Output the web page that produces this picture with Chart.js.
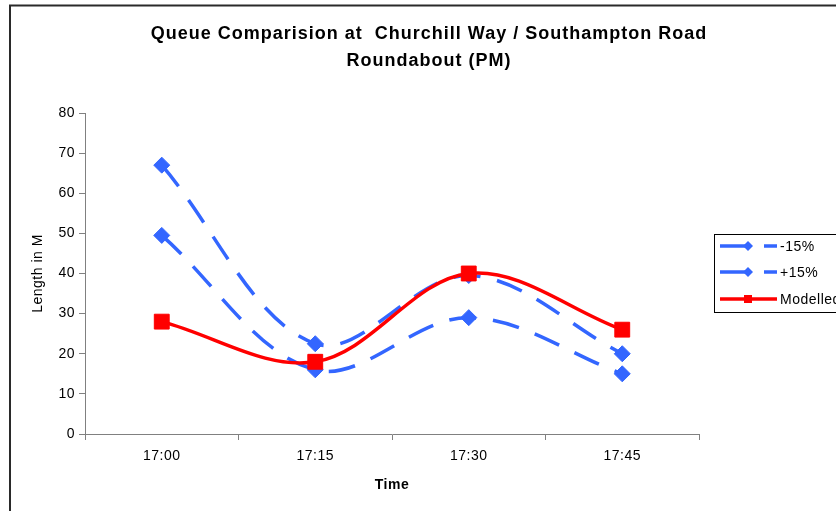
<!DOCTYPE html>
<html>
<head>
<meta charset="utf-8">
<script src="https://cdn.jsdelivr.net/npm/chart.js@4/dist/chart.umd.min.js"></script>
<style>
  html, body { margin: 0; padding: 0; background: #fff; overflow: hidden; }
  #wrap { width: 836px; height: 511px; }
</style>
</head>
<body>
<div id="wrap"><canvas id="queue" width="836" height="511"></canvas></div>
<script>
// Time slots along the x axis
const timeSlots = ['17:00', '17:15', '17:30', '17:45'];
// Queue lengths (m) for each scenario
const minus15 = [49.5, 16, 29, 15];
const plus15 = [67, 22.5, 39.5, 20];
const modelled = [28, 18, 40, 26];

const chartTitle = ['Queue Comparision at  Churchill Way / Southampton Road', 'Roundabout (PM)'];
const yTitle = 'Length in M';
const xTitle = 'Time';

const FONT = '"Liberation Sans", Arial, Helvetica, sans-serif';
const BLUE = '#3366FF';
const RED = '#FF0000';
const DASH = [27, 17];

// Slightly wide text spacing for all labels drawn by the library
const spacingPlugin = {
  id: 'spacing',
  beforeUpdate(chart) { chart.ctx.letterSpacing = '0.5px'; },
  beforeDraw(chart) { chart.ctx.letterSpacing = '0.5px'; }
};

// Outer frame of the chart sheet and the two-line heading
const framePlugin = {
  id: 'frame',
  beforeDraw(chart) {
    const ctx = chart.ctx;
    ctx.save();
    ctx.strokeStyle = '#2a2a2a';
    ctx.lineWidth = 2;
    ctx.beginPath();
    ctx.moveTo(10, 511);
    ctx.lineTo(10, 5.5);
    ctx.lineTo(836, 5.5);
    ctx.stroke();

    ctx.letterSpacing = '1px';
    ctx.fillStyle = '#000';
    ctx.font = 'bold 18px ' + FONT;
    ctx.textAlign = 'center';
    ctx.textBaseline = 'middle';
    chartTitle.forEach((line, i) => ctx.fillText(line, 429, 34 + i * 27));
    ctx.restore();
  }
};

function drawMarker(ctx, style, x, y, r, color) {
  ctx.fillStyle = color;
  ctx.beginPath();
  if (style === 'rectRot') {
    ctx.moveTo(x, y - r);
    ctx.lineTo(x + r, y);
    ctx.lineTo(x, y + r);
    ctx.lineTo(x - r, y);
  } else {
    ctx.rect(x - r, y - r, 2 * r, 2 * r);
  }
  ctx.closePath();
  ctx.fill();
}

// Boxed legend on the right, samples show line style plus marker
const boxLegendPlugin = {
  id: 'boxLegend',
  afterDraw(chart) {
    const ctx = chart.ctx;
    ctx.save();
    ctx.strokeStyle = '#000';
    ctx.lineWidth = 1;
    ctx.strokeRect(714.5, 234.5, 200, 78);
    const rows = [246, 272, 299];
    chart.data.datasets.forEach((ds, i) => {
      const y = rows[i];
      ctx.strokeStyle = ds.borderColor;
      ctx.lineWidth = ds.borderWidth;
      ctx.lineCap = 'butt';
      ctx.setLineDash(ds.borderDash || []);
      ctx.beginPath();
      ctx.moveTo(720, y);
      ctx.lineTo(777, y);
      ctx.stroke();
      ctx.setLineDash([]);
      drawMarker(ctx, ds.pointStyle, 748, y, ds.pointStyle === 'rect' ? 4 : 5, ds.borderColor);
      ctx.letterSpacing = '0.5px';
      ctx.fillStyle = '#000';
      ctx.font = '14px ' + FONT;
      ctx.textBaseline = 'middle';
      ctx.textAlign = 'left';
      ctx.fillText(ds.label, 780, y + 1);
    });
    ctx.restore();
  }
};

new Chart(document.getElementById('queue'), {
  type: 'line',
  data: {
    labels: timeSlots,
    datasets: [
      {
        label: '-15%',
        data: minus15,
        borderColor: BLUE,
        backgroundColor: BLUE,
        borderWidth: 3.5,
        borderDash: DASH,
        pointStyle: 'rectRot',
        pointRadius: 8,
        pointBorderWidth: 1,
        tension: 0.35,
        order: 2
      },
      {
        label: '+15%',
        data: plus15,
        borderColor: BLUE,
        backgroundColor: BLUE,
        borderWidth: 3.5,
        borderDash: DASH,
        pointStyle: 'rectRot',
        pointRadius: 8,
        pointBorderWidth: 1,
        tension: 0.35,
        order: 1
      },
      {
        label: 'Modelled',
        data: modelled,
        borderColor: RED,
        backgroundColor: RED,
        borderWidth: 3.5,
        pointStyle: 'rect',
        pointRadius: 10.5,
        pointBorderWidth: 1,
        tension: 0.35,
        order: 0
      }
    ]
  },
  options: {
    responsive: false,
    animation: false,
    events: [],
    layout: { padding: { left: 0, right: 137, top: 113, bottom: 0 } },
    plugins: {
      legend: { display: false },
      tooltip: { enabled: false },
      title: { display: false }
    },
    scales: {
      x: {
        type: 'category',
        offset: true,
        border: { color: '#808080', width: 1 },
        grid: { offset: true, drawOnChartArea: false, tickLength: 6, color: '#808080' },
        ticks: { color: '#000', font: { family: FONT, size: 14 }, padding: 8, maxRotation: 0 },
        title: {
          display: true,
          text: xTitle,
          color: '#000',
          font: { family: FONT, size: 14, weight: 'bold' },
          padding: { top: 0, bottom: 17 }
        },
        afterFit(scale) { scale.height = 77; }
      },
      y: {
        min: 0,
        max: 80,
        border: { color: '#808080', width: 1 },
        grid: { drawOnChartArea: false, tickLength: 6, color: '#808080' },
        ticks: { stepSize: 10, color: '#000', font: { family: FONT, size: 14 }, padding: 4 },
        title: {
          display: true,
          text: yTitle,
          color: '#000',
          font: { family: FONT, size: 14 },
          padding: { top: 30, bottom: 0 }
        },
        afterFit(scale) { scale.width = 85; }
      }
    }
  },
  plugins: [spacingPlugin, framePlugin, boxLegendPlugin]
});
</script>
</body>
</html>
